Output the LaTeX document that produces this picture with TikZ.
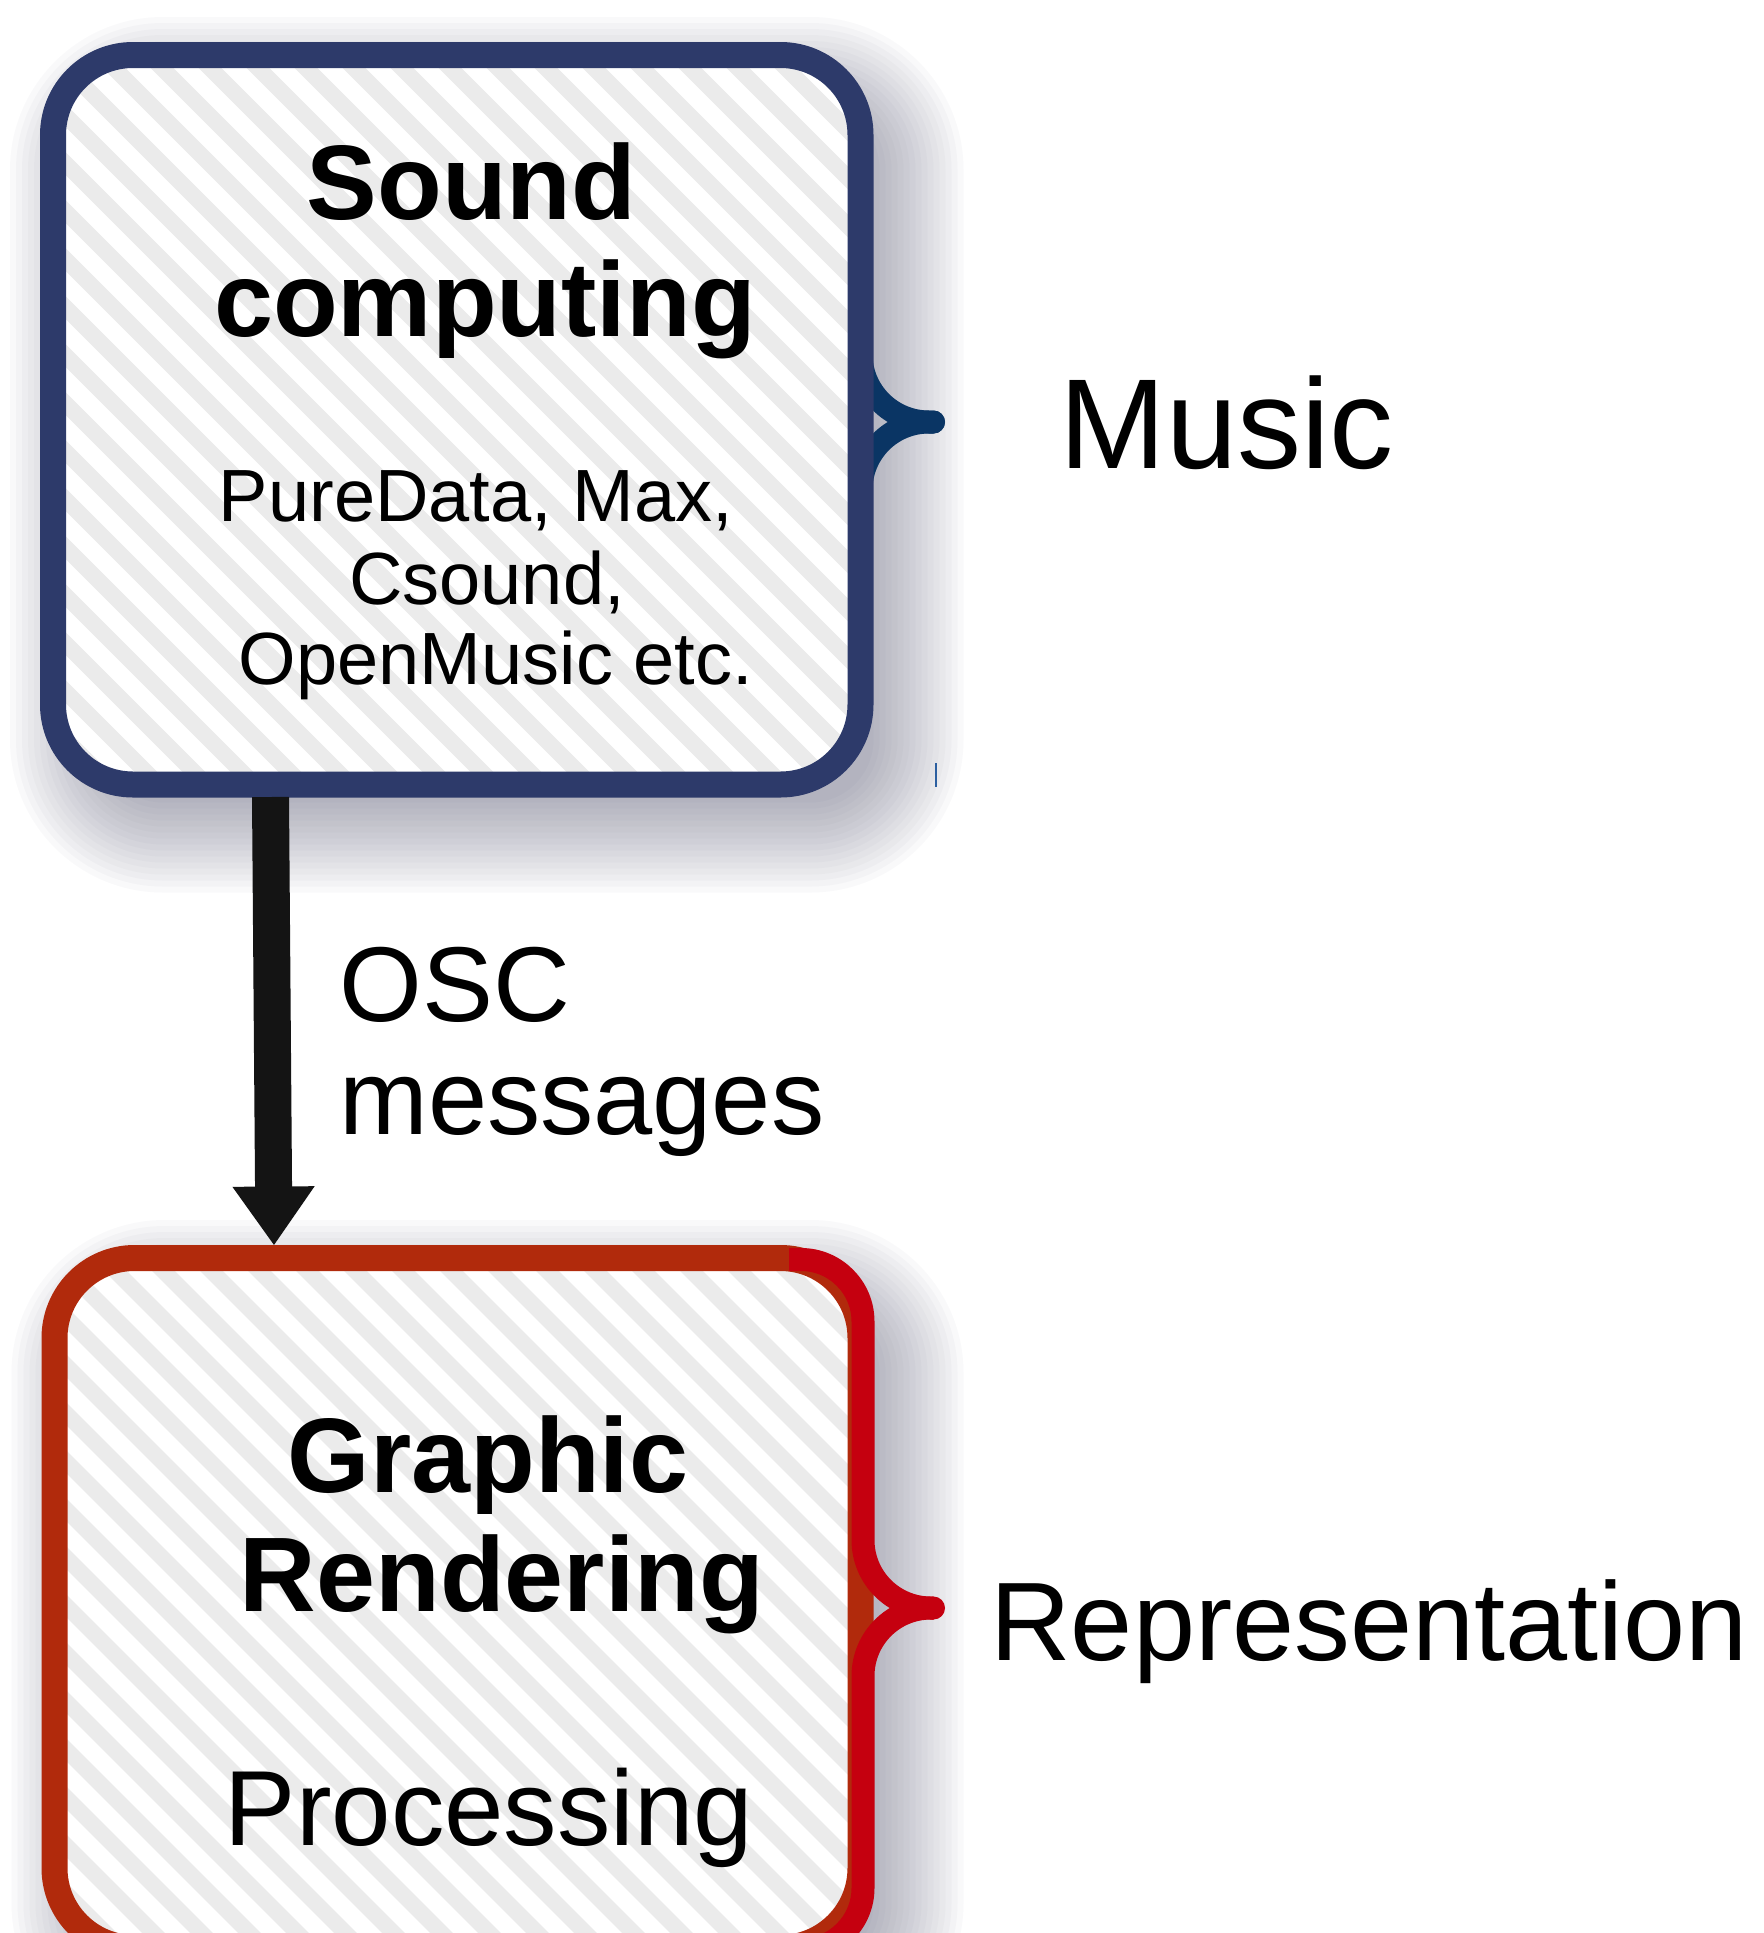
\documentclass[tikz,border=0pt]{standalone}
\usepackage{fontspec}
\setmainfont{Liberation Sans}
\usetikzlibrary{arrows.meta}
\pgfdeclarelayer{bg}
\pgfdeclarelayer{mid}
\pgfsetlayers{bg,mid,main}
\definecolor{navyc}{HTML}{2D3A6A}
\definecolor{mbracec}{HTML}{0A3564}
\definecolor{rustc}{HTML}{B12A0C}
\definecolor{redc}{HTML}{C5000F}
\definecolor{arrowc}{HTML}{141414}
\definecolor{hatchc}{HTML}{EBEBEB}
\definecolor{shadowc}{HTML}{50526E}
\definecolor{tickc}{HTML}{2C5FA0}
\tikzset{
  box/.style={line width=13pt, rounded corners=40pt, inner sep=0pt, outer sep=0pt,
    fill=white,
    path picture={\foreach \k in {-18,...,18}{\draw[hatchc, line width=8pt, sharp corners]
      ([xshift=\k*24pt]path picture bounding box.north west) -- ++(1700,1700);}}},
  head/.style={font=\fontsize{53}{60}\selectfont\bfseries, inner sep=0pt, anchor=base},
  sub/.style={font=\fontsize{37}{44}\selectfont, inner sep=0pt, anchor=base},
  body/.style={font=\fontsize{53.4}{60}\selectfont, inner sep=0pt, anchor=base},
  side/.style={inner sep=0pt, anchor=base west},
  bracepath/.style={line width=11.5pt},
}
\begin{document}
\begin{tikzpicture}[x=0.5pt,y=-0.5pt]
\useasboundingbox (0,0) rectangle (1764,1933);

% boxes
\node[box, draw=navyc, minimum width=403.75pt, minimum height=364.75pt] (sc) at (456.75,419.75) {};
\node[box, draw=rustc, minimum width=403pt, minimum height=345pt] (gr) at (457.5,1603) {};

% texts
\node[head] (t1) at (471.5,219.5) {Sound};
\node[head] (t2) at (485,336.5) {computing};
\node[sub] (t3) at (476,521.5) {PureData, Max,};
\node[sub] (t4) at (487,604) {Csound,};
\node[sub] (t5) at (496,684) {OpenMusic etc.};
\node[side, font=\fontsize{64}{70}\selectfont] (music) at (1059,468) {Music};
\node[side, font=\fontsize{53.2}{60}\selectfont] (osc1) at (339,1021) {OSC};
\node[side, font=\fontsize{53.2}{60}\selectfont] (osc2) at (339,1134) {messages};
\node[head] (g1) at (488,1492) {Graphic};
\node[head] (g2) at (502,1611) {Rendering};
\node[body] (proc) at (489,1845) {Processing};
\node[side, font=\fontsize{55.8}{62}\selectfont] (rep) at (990,1660) {Representation};

% arrow
\draw[arrowc, line width=18.5pt, -{Triangle[width=39pt,length=29.5pt]}]
  ([shift={(217.5,12.5)}]sc.south west) -- ([shift={(219.5,-12.5)}]gr.north west);

% red brace
\draw[redc, bracepath] (789,1259.5) -- (801,1259.5)
  .. controls (835.2,1259.5) and (863,1287.3) .. (863,1321.5) -- (863,1540)
  .. controls (863,1577.6) and (893.4,1608) .. (931,1608) -- (933.5,1608);
\draw[redc, bracepath] (933.5,1608) -- (931,1608)
  .. controls (893.4,1608) and (863,1638.4) .. (863,1676) -- (863,1888)
  .. controls (863,1922.2) and (835.2,1950) .. (801,1950) -- (789,1950);
\fill[redc] (933.5,1608) circle[radius=11.5];

% stray tick
\draw[tickc, line width=1pt] (936,763) -- (936,787);

\begin{pgfonlayer}{mid}
\draw[mbracec, bracepath, line cap=round] (861,320) -- (861,354)
  .. controls (861,391.6) and (891.4,422) .. (929,422) -- (933.5,422);
\draw[mbracec, bracepath, line cap=round] (933.5,422) -- (929,422)
  .. controls (891.4,422) and (861,452.4) .. (861,490) -- (861,530);
\end{pgfonlayer}

\begin{pgfonlayer}{bg}
\fill[white] (0,0) rectangle (1764,1933);
\foreach \nd in {sc,gr}{
  \foreach \e in {-30,-24,...,60}{
    \pgfmathsetmacro\rr{(93+\e)/2}
    \fill[shadowc, fill opacity=0.03, rounded corners=\rr pt]
      ([shift={({17-\e},{22-\e})}]\nd.north west) rectangle ([shift={({43+\e},{48+\e})}]\nd.south east);
  }
}
\end{pgfonlayer}
\end{tikzpicture}
\end{document}
